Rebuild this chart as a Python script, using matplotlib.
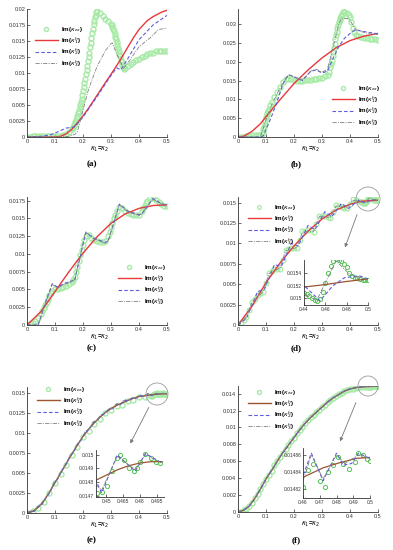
import matplotlib
matplotlib.use('Agg')
import matplotlib.pyplot as plt
from matplotlib.ticker import FuncFormatter, MultipleLocator, FixedLocator
from matplotlib.patches import Ellipse, FancyArrowPatch

plt.rcParams['font.family'] = ['Liberation Sans', 'DejaVu Sans']
plt.rcParams['mathtext.fontset'] = 'dejavusans'

W, H = 393, 550

LABELS = ['Im($\\kappa_{ex}$)', 'Im($\\kappa_{1}^{h}$)', 'Im($\\kappa_{2}^{h}$)', 'Im($\\kappa_{3}^{h}$)']
XLABEL = '$\\kappa_1$=$\\kappa_2$'
PANELS = ['(a)', '(b)', '(c)', '(d)', '(e)', '(f)']

# ---------------- panel (a) ----------------
A_GX = [0.00,0.01,0.02,0.03,0.04,0.05,0.06,0.07,0.08,0.09,0.10,0.11,0.12,0.13,0.14,0.15,
        0.16,0.1625,0.165,0.1675,0.17,0.1725,0.175,0.1775,0.18,0.1825,0.185,0.1875,0.19,0.1925,0.195,0.1975,
        0.20,0.2025,0.205,0.2075,0.21,0.2125,0.215,0.2175,0.22,0.2225,0.225,0.2275,0.23,0.2325,0.235,0.2375,
        0.24,0.2425,0.245,0.2475,0.25,
        0.26,0.27,0.28,0.29,
        0.30,0.3025,0.305,0.3075,0.31,0.3125,0.315,0.3175,0.32,0.3225,0.325,0.3275,0.33,0.3325,0.335,0.3375,
        0.34,0.3425,0.345,
        0.35,0.36,0.37,0.38,0.39,0.40,0.41,0.42,0.43,0.44,0.45,0.46,0.47,0.48,0.49,0.50]
A_GY = [0,0,0.0001,0.0001,0.0001,0.0001,0.0001,0.0001,0.0001,0.0001,0.0001,0.0001,0.0002,0.0003,0.0005,0.0008,
        .0012,.0014,.0016,.0018,.002,.0023,.0026,.0029,.0033,.0037,.0041,.0045,.005,.0055,.006,.0066,
        .0072,.0078,.0085,.0091,.0098,.0104,.0111,.0118,.0125,.0132,.014,.0147,.0155,.0162,.0169,.0176,
        .0182,.0187,.0191,.0195,.0197,
        .0193,.0189,.0185,.0182,
        .0177,.0175,.0172,.0169,.0165,.0161,.0157,.0153,.0148,.0144,.0139,.0135,.013,.0126,.0121,.0117,
        .0112,.0109,.0107,
        0.0108,0.0111,0.0114,0.0117,0.012,0.0122,0.0125,0.0127,0.0129,0.0131,0.0132,0.0134,0.0135,0.0135,0.0134,0.0134]
A_RX = [0,0.05,0.1,0.12,0.14,0.16,0.18,0.2,0.22,0.25,0.28,0.3,0.33,0.35,0.38,0.4,0.43,0.45,0.48,0.5]
A_RY = [0,0,0,0.0001,0.0005,0.0012,0.0022,0.0033,0.0045,0.0065,0.0085,0.0098,0.0118,0.0133,0.0155,0.0168,0.0182,0.0188,0.0195,0.0198]
A_BX = [0,0.05,0.08,0.1,0.12,0.14,0.16,0.17,0.2,0.25,0.3,0.32,0.335,0.35,0.4,0.45,0.5]
A_BY = [0,0.0001,0.0003,0.0006,0.001,0.0014,0.0015,0.0016,0.0031,0.0063,0.0096,0.0108,0.0105,0.0115,0.0152,0.0175,0.019]
A_KX = [0,0.1,0.15,0.17,0.18,0.2,0.22,0.25,0.28,0.3,0.305,0.32,0.345,0.37,0.4,0.44,0.47,0.5]
A_KY = [0,0,0.0001,0.0004,0.0008,0.0042,0.0075,0.011,0.0135,0.0146,0.0147,0.013,0.0107,0.0122,0.0141,0.0155,0.0168,0.017]

# ---------------- panel (b) ----------------
B_GX = [0,.01,.02,.03,.04,.05,.06,.07,.08,
        .085,.0875,.09,.0925,.095,.0975,.10,.1025,.105,.1075,.11,.115,.12,
        .13,.14,.15,.16,.17,.18,.19,.20,.21,.22,.23,.24,.25,.26,.27,.28,.29,.30,.31,.32,.325,
        .33,.3325,.335,.3375,.34,.3425,.345,.3475,.35,.3525,.355,.3575,.36,.3625,.365,.3675,.37,.3725,.375,.3775,.38,
        .39,.395,.40,.405,.41,.415,.42,
        .43,.44,.45,.46,.47,.48,.49,.50]
B_GY = [0,0,.0001,.0002,.0003,.0004,.0005,.0005,.0006,
        .0009,.0014,.002,.0027,.0035,.0043,.0052,.0058,.0064,.007,.0075,.0084,.0092,
        .0107,.012,.0133,.0145,.0153,.0155,.0153,.0151,.015,.015,.015,.0151,.0151,.0152,.0154,.0155,.0156,.0158,.0161,.0165,.0172,
        .0185,.0194,.0203,.0214,.0225,.0237,.0248,.0259,.027,.028,.0289,.0297,.0305,.0311,.0317,.0321,.0325,.0328,.0331,.0332,.0333,
        .033,.0325,.0318,.0305,.029,.028,.0272,
        .0268,.0266,.0264,.0263,.0261,.026,.0259,.0258]
B_RX = [0,0.02,0.05,0.08,0.1,0.15,0.2,0.25,0.3,0.35,0.4,0.45,0.5]
B_RY = [0,0.0002,0.0015,0.0035,0.0054,0.0099,0.0142,0.0178,0.021,0.0237,0.0256,0.0268,0.0275]
B_BX = [0,0.08,0.09,0.1,0.12,0.14,0.16,0.18,0.2,0.23,0.26,0.28,0.3,0.32,0.34,0.36,0.38,0.4,0.42,0.45,0.5]
B_BY = [0,0,0.0003,0.002,0.0055,0.0095,0.014,0.0166,0.016,0.015,0.0175,0.0178,0.017,0.0175,0.021,0.024,0.0262,0.0275,0.0285,0.028,0.0274]
B_KX = [0,0.08,0.1,0.12,0.15,0.18,0.2,0.23,0.26,0.28,0.3,0.32,0.34,0.36,0.37,0.39,0.4,0.42,0.44,0.47,0.5]
B_KY = [0,0,0.0045,0.0085,0.013,0.0165,0.016,0.0152,0.0175,0.018,0.0172,0.018,0.024,0.030,0.0315,0.0315,0.031,0.0285,0.028,0.0274,0.0272]

# ---------------- panel (c) ----------------
C_GX = [0,.01,.02,.03,.04,.05,.055,.06,.065,.07,.075,.08,.085,.09,.10,.11,.12,.13,.14,.15,.16,
        .165,.17,.175,.18,.185,.19,.195,.20,.205,.21,.22,.23,.24,.25,.26,.27,.28,.29,
        .295,.30,.305,.31,.315,.32,.33,.34,.35,.36,.37,.38,.39,.40,.41,.415,.42,.425,.43,
        .44,.45,.46,.47,.48,.49,.50]
C_GY = [0,.0001,.0003,.0006,.001,.0016,.002,.0024,.0028,.0033,.0037,.0042,.0045,.0048,.005,.0051,.0052,.0053,.0055,.0057,.006,
        .0063,.0068,.0075,.0082,.009,.0098,.0105,.0113,.0119,.0125,.0127,.0123,.012,.0118,.0117,.0117,.0118,.0125,
        .0131,.0138,.0144,.015,.0155,.016,.0166,.0165,.0161,.0158,.0156,.0155,.0155,.0155,.016,.0164,.0168,.0172,.0175,
        .0179,.0179,.0176,.0173,.017,.0168,.0167]
C_RX = [0,.05,.1,.15,.2,.25,.3,.35,.4,.45,.5]
C_RY = [0,.0019,.0047,.0075,.0101,.0124,.0143,.0156,.0164,.0168,.0169]
C_BX = [0,.04,.06,.09,.11,.13,.16,.17,.21,.24,.28,.29,.33,.36,.40,.41,.45,.47,.5]
C_BY = [0,0,.0025,.0058,.0053,.0058,.0062,.0062,.013,.0122,.0116,.0118,.017,.016,.0155,.0156,.0178,.0173,.0167]
C_KX = [0,.04,.06,.09,.11,.13,.155,.17,.21,.24,.28,.29,.33,.36,.40,.41,.45,.47,.5]
C_KY = [0,0,.0024,.0057,.0052,.0057,.006,.0064,.0131,.0121,.0115,.0119,.0169,.0159,.0154,.0157,.0177,.0172,.0166]

# ---------------- panel (d) ----------------
D_GX = [0,.01,.02,.03,.04,.05,.06,.07,.08,.09,.10,.11,.12,.13,.14,.15,.16,.17,.18,.19,
        .20,.21,.22,.23,.24,.25,.26,.27,.28,.29,.30,.31,.32,.33,.34,.35,.36,.37,.38,.39,.40,.41,.42,.43,
        .44,.4425,.445,.4475,.45,.4525,.455,.4575,.46,.4625,.465,.4675,.47,.4725,.475,.4775,.48,.4825,.485,.4875,.49,.4925,.495,.4975,.5]
D_GY = [0,.0003,.0006,.001,.0018,.0028,.0032,.00365,.0039,.004,.0052,.0064,.0066,.0069,.0069,.0069,.008,.0092,.0093,.0095,
        .0095,.0094,.0104,.0115,.0115,.0117,.0116,.0114,.0124,.0134,.0134,.0134,.0132,.0131,.0139,.0147,.0146,.0145,.0144,.0143,.0148,.0154,.0153,.0152,
        .01509,.01507,.01503,.015,.01497,.01495,.01499,.0151,.01525,.0154,.01552,.01559,.01563,.01562,.01559,.01555,.0155,.0154,.01535,.01533,.01532,.01531,.0153,.0153,.01529]
D_RX = [0,.05,.1,.15,.2,.25,.3,.35,.4,.44,.46,.48,.5]
D_RY = [0,.0023,.0052,.0076,.0097,.0115,.013,.0141,.0148,.01518,.01522,.01527,.01531]
D_BX = [0,.03,.07,.095,.13,.155,.19,.215,.25,.275,.31,.335,.37,.395,.43,.441,.455,.467,.478,.492,.5]
D_BY = [0,.0008,.0041,.0044,.0074,.0072,.01,.0097,.0122,.0117,.0139,.0133,.0149,.0143,.0153,.01519,.01496,.0152,.01533,.01536,.01531]
D_KX = [0,.03,.05,.09,.11,.15,.17,.21,.23,.27,.29,.33,.35,.39,.41,.452,.47,.483,.5]
D_KY = [0,.001,.0028,.0041,.0063,.007,.0091,.0095,.0114,.0115,.0133,.0132,.0146,.0144,.0153,.01497,.0156,.01538,.0153]

# ---------------- panel (e) ----------------
E_RX = [0,.02,.04,.06,.08,.10,.12,.14,.16,.18,.20,.22,.24,.26,.28,.30,.32,.34,.36,.38,.40,.42,.44,.45,.46,.47,.48,.49,.5]
E_RY = [0,.0002,.0007,.0015,.0026,.0038,.005,.0062,.0074,.0085,.0096,.0105,.0113,.012,.0126,.0131,.0135,.0138,.0141,.0144,.0146,.0147,.01481,.01485,.01489,.01492,.01494,.01495,.01495]
E_BX = [0,.012,.026,.04,.054,.068,.082,.096,.11,.124,.138,.152,.166,.18,.194,.208,.222,.236,.25,.264,.278,.292,.306,.32,.334,.348,.362,.376,.39,.404,.418,.432,
        .441,.446,.46,.476,.485,.5]
E_BY = [0,.0002,.0002,.00082,.00108,.00192,.00258,.00372,.00428,.00532,.00598,.00702,.00758,.00862,.00918,.01012,.01048,.01132,.01158,.01222,.01248,.01302,.01308,.01362,.01358,.01412,.01408,.01442,.01438,.01472,.01458,.01492,
        .01481,.01472,.015,.01488,.01501,.01494]
E_KX = [0,.012,.026,.04,.054,.068,.082,.096,.11,.124,.138,.152,.166,.18,.194,.208,.222,.236,.25,.264,.278,.292,.306,.32,.334,.348,.362,.376,.39,.404,.418,.432,
        .441,.446,.46,.476,.485,.5]
E_KY = [0,.0003,.00024,.00092,.00114,.00202,.00264,.00382,.00434,.00542,.00604,.00712,.00764,.00872,.00924,.01022,.01054,.01142,.01164,.01232,.01254,.01312,.01314,.01372,.01364,.01422,.01414,.01452,.01444,.01482,.01464,.01502,
        .01478,.01474,.01499,.01489,.015,.01494]
E_GX = [0,.02,.04,.06,.08,.10,.12,.14,.16,.18,.20,.22,.24,.26,.28,.30,.32,.34,.36,.38,.40,.42,
        .4416,.446,.4506,.455,.4596,.4626,.4656,.47,.4746,.4776,.4806,.4851,.4896,.4941,.498]
E_GY = [0,.0002,.0006,.0014,.0025,.0037,.0049,.006,.0073,.0083,.0095,.0103,.0112,.0118,.0125,.0129,.0134,.0136,.014,.0142,.0145,.0146,
        .01472,.01473,.01477,.01488,.01498,.015,.01496,.0149,.01488,.0149,.01495,.01501,.01498,.01495,.01494]

# ---------------- panel (f) ----------------
F_RX = [0,.02,.04,.06,.08,.10,.12,.14,.16,.18,.20,.22,.24,.26,.28,.30,.32,.34,.36,.38,.40,.42,.44,.46,.472,.482,.492,.5]
F_RY = [0,.0002,.0007,.0016,.0027,.0039,.0049,.006,.007,.0079,.0088,.0097,.0105,.0112,.0118,.0124,.013,.0135,.0139,.0143,.01455,.0147,.01478,
        .014834,.014845,.014851,.014856,.014857]
F_BX = [0,.02,.04,.06,.08,.10,.12,.14,.16,.18,.20,.22,.24,.26,.28,.30,.32,.34,.36,.38,.40,.42,.44,
        .46,.465,.472,.48,.484,.489,.493,.5]
F_BY = [0,.0002,.0007,.0016,.0027,.0039,.0049,.006,.007,.0079,.0088,.0097,.0105,.0112,.0118,.0124,.013,.0135,.0139,.0143,.01456,.01471,.01479,
        .014836,.014862,.01483,.014862,.014848,.01485,.014862,.014856]
F_KX = [0,.02,.04,.06,.08,.10,.12,.14,.16,.18,.20,.22,.24,.26,.28,.30,.32,.34,.36,.38,.40,.42,.44,
        .46,.465,.472,.48,.485,.493,.5]
F_KY = [0,.0002,.0007,.0016,.0027,.0039,.0049,.006,.007,.0079,.0088,.0097,.0105,.0112,.0118,.0124,.013,.0135,.0139,.0143,.01457,.01472,.0148,
        .01483,.01486,.014832,.01486,.01485,.01486,.014856]
F_GX = [0,.01,.02,.03,.04,.05,.06,.07,.08,.09,.10,.11,.12,.13,.14,.15,.16,.17,.18,.19,.20,.21,.22,.23,.24,.25,.26,.27,.28,.29,
        .30,.31,.32,.33,.34,.35,.36,.37,.38,.39,.40,.41,.42,.43,.44,.45,
        .46,.463,.466,.47,.473,.475,.478,.481,.484,.4876,.491,.493,.496,.498,.5]
F_GY = [0,.00005,.0002,.0004,.0007,.0011,.0016,.0021,.0027,.0033,.0039,.0044,.0049,.0055,.006,.0065,.007,.0075,.0079,.0084,.0088,.0093,.0097,.0101,.0105,.0109,.0112,.0115,.0118,.0121,
        .0124,.0127,.013,.0133,.0135,.0137,.0139,.0141,.0143,.0144,.01455,.0146,.0147,.01474,.01478,.01481,
        .014823,.014843,.01485,.01483,.014823,.01484,.014848,.014857,.01485,.014844,.014852,.014862,.01486,.014855,.014853]

for xs, ys in [(A_GX, A_GY), (B_GX, B_GY), (C_GX, C_GY), (D_GX, D_GY), (E_GX, E_GY), (F_GX, F_GY),
               (E_BX, E_BY), (E_KX, E_KY), (F_BX, F_BY), (F_KX, F_KY), (D_BX, D_BY), (D_KX, D_KY)]:
    assert len(xs) == len(ys), (len(xs), len(ys))

# ---------------- styling ----------------
GREEN_MAIN = '#a6eaa6'
GREEN_IN = '#55c455'
RED = '#e8383c'
BROWN = '#9b5530'
BLUE = '#5c5ce0'
GRAY = '#808080'

fig = plt.figure(figsize=(W / 100, H / 100), dpi=100)
fmt = FuncFormatter(lambda v, p: '%g' % round(v, 8))


def box(l, t, r, b):
    return [l / W, 1 - b / H, (r - l) / W, (b - t) / H]


def style_axes(ax, ylim, ystep, xlim=(0, 0.5), xticks=None, yticks=None, fs=4.0):
    ax.set_xlim(*xlim)
    ax.set_ylim(*ylim)
    for s in ('top', 'right'):
        ax.spines[s].set_visible(False)
    for s in ('left', 'bottom'):
        ax.spines[s].set_linewidth(0.6)
        ax.spines[s].set_color('#333333')
    if xticks is None:
        ax.xaxis.set_major_locator(MultipleLocator(0.1))
    else:
        ax.xaxis.set_major_locator(FixedLocator(xticks))
    if yticks is None:
        ax.yaxis.set_major_locator(MultipleLocator(ystep))
    else:
        ax.yaxis.set_major_locator(FixedLocator(yticks))
    ax.xaxis.set_major_formatter(fmt)
    ax.yaxis.set_major_formatter(fmt)
    ax.tick_params(direction='in', length=2.2, width=0.5, labelsize=fs, pad=1.2, colors='#333333')
    ax.patch.set_alpha(0)


def draw(ax, g, r, b, k, red_color, gcol, ms, mew, lw_r=1.0):
    ax.plot(g[0], g[1], linestyle='none', marker='o', ms=ms, mfc='none', mec=gcol, mew=mew, label=LABELS[0])
    ax.plot(r[0], r[1], color=red_color, lw=lw_r, label=LABELS[1])
    ax.plot(b[0], b[1], color=BLUE, lw=0.8, dashes=(3.2, 2.0), label=LABELS[2])
    ax.plot(k[0], k[1], color=GRAY, lw=0.6, dashes=(5, 1.5, 1.2, 1.5), label=LABELS[3])


def legend(ax, lx, ty):
    return ax.legend(loc='upper left', bbox_to_anchor=(lx / W, 1 - ty / H), bbox_transform=fig.transFigure,
                     frameon=False, prop={'weight': 'bold', 'size': 4.5}, handlelength=3.6,
                     handletextpad=0.5, labelspacing=0.15, borderpad=0, borderaxespad=0, numpoints=1,
                     markerscale=0.8)


boxes = {
    'a': box(27, 9, 167, 137),
    'b': box(238, 9, 378, 137),
    'c': box(27, 197, 167, 325),
    'd': box(238, 197, 378, 325),
    'e': box(27, 387, 167, 513),
    'f': box(238, 386, 378, 512),
}
label_pos = [(92, 164), (296, 164), (92, 348), (296, 348), (92, 540), (296, 540)]

ax_a = fig.add_axes(boxes['a'])
draw(ax_a, (A_GX, A_GY), (A_RX, A_RY), (A_BX, A_BY), (A_KX, A_KY), RED, GREEN_MAIN, 3.6, 1.0)
style_axes(ax_a, (0, 0.02), 0.0025)
legend(ax_a, 35, 25)

ax_b = fig.add_axes(boxes['b'])
draw(ax_b, (B_GX, B_GY), (B_RX, B_RY), (B_BX, B_BY), (B_KX, B_KY), RED, GREEN_MAIN, 3.6, 1.0)
style_axes(ax_b, (0, 0.034), 0.005)
legend(ax_b, 332, 84)

ax_c = fig.add_axes(boxes['c'])
draw(ax_c, (C_GX, C_GY), (C_RX, C_RY), (C_BX, C_BY), (C_KX, C_KY), RED, GREEN_MAIN, 3.6, 1.0)
style_axes(ax_c, (0, 0.018), 0.0025)
legend(ax_c, 118, 263)

ax_d = fig.add_axes(boxes['d'])
draw(ax_d, (D_GX, D_GY), (D_RX, D_RY), (D_BX, D_BY), (D_KX, D_KY), RED, GREEN_MAIN, 3.4, 0.9)
style_axes(ax_d, (0, 0.0157), 0.0025)
legend(ax_d, 248, 203)

ax_e = fig.add_axes(boxes['e'])
draw(ax_e, (E_GX, E_GY), (E_RX, E_RY), (E_BX, E_BY), (E_KX, E_KY), BROWN, GREEN_MAIN, 3.6, 1.0)
style_axes(ax_e, (0, 0.0158), 0.0025)
legend(ax_e, 37, 385)

ax_f = fig.add_axes(boxes['f'])
draw(ax_f, (F_GX, F_GY), (F_RX, F_RY), (F_BX, F_BY), (F_KX, F_KY), BROWN, GREEN_MAIN, 3.6, 1.0)
style_axes(ax_f, (0, 0.0149), 0.002)
legend(ax_f, 248, 388)

# insets
in_d = fig.add_axes(box(304, 260, 368, 305))
draw(in_d, (D_GX, D_GY), (D_RX, D_RY), (D_BX, D_BY), (D_KX, D_KY), BROWN, GREEN_IN, 3.0, 0.7, lw_r=0.9)
style_axes(in_d, (0.014893, 0.015613), None, xlim=(0.44, 0.5), xticks=[0.44, 0.46, 0.48, 0.5],
           yticks=[0.015, 0.0152, 0.0154], fs=3.5)

in_e = fig.add_axes(box(96, 450, 164, 497))
draw(in_e, (E_GX, E_GY), (E_RX, E_RY), (E_BX, E_BY), (E_KX, E_KY), BROWN, GREEN_IN, 3.0, 0.7, lw_r=0.9)
style_axes(in_e, (0.01469, 0.015036), None, xlim=(0.441, 0.5016), xticks=[0.45, 0.465, 0.48, 0.495],
           yticks=[0.0147, 0.0148, 0.0149, 0.015], fs=3.5)

in_f = fig.add_axes(box(303, 448, 370, 498))
draw(in_f, (F_GX, F_GY), (F_RX, F_RY), (F_BX, F_BY), (F_KX, F_KY), BROWN, GREEN_IN, 3.0, 0.7, lw_r=0.9)
style_axes(in_f, (0.01481, 0.014868), None, xlim=(0.46, 0.5), xticks=[0.46, 0.47, 0.48, 0.49, 0.5],
           yticks=[0.01482, 0.01484, 0.01486], fs=3.5)

# x labels and panel letters
for ax, (lx, ly), txt in zip([ax_a, ax_b, ax_c, ax_d, ax_e, ax_f], label_pos, PANELS):
    pos = ax.get_position()
    fig.text((pos.x0 + pos.x1) / 2 + 3 / W, pos.y0 - 12 / H, XLABEL, ha='center', va='center',
             fontsize=4.8, fontweight='bold')
    fig.text(lx / W, 1 - ly / H, txt, ha='center', va='center', fontsize=6.5, fontweight='bold',
             family='Liberation Serif')

# zoom circles and arrows
for (cx, cy, rr), (x1, y1, x2, y2) in [((368, 199, 12), (358, 212, 344, 250)),
                                       ((157, 394, 11), (150, 405, 129, 446)),
                                       ((368, 386, 10), (357, 400, 339, 444))]:
    fig.add_artist(Ellipse((cx / W, 1 - cy / H), 2 * rr / W, 2 * rr / H, transform=fig.transFigure,
                           fill=False, ec='#9a9a9a', lw=0.6))
    fig.add_artist(FancyArrowPatch((x1 / W, 1 - y1 / H), (x2 / W, 1 - y2 / H), transform=fig.transFigure,
                                   arrowstyle='-|>', mutation_scale=5, color='#777777', lw=0.6))

fig.savefig('out.png', dpi=100)
